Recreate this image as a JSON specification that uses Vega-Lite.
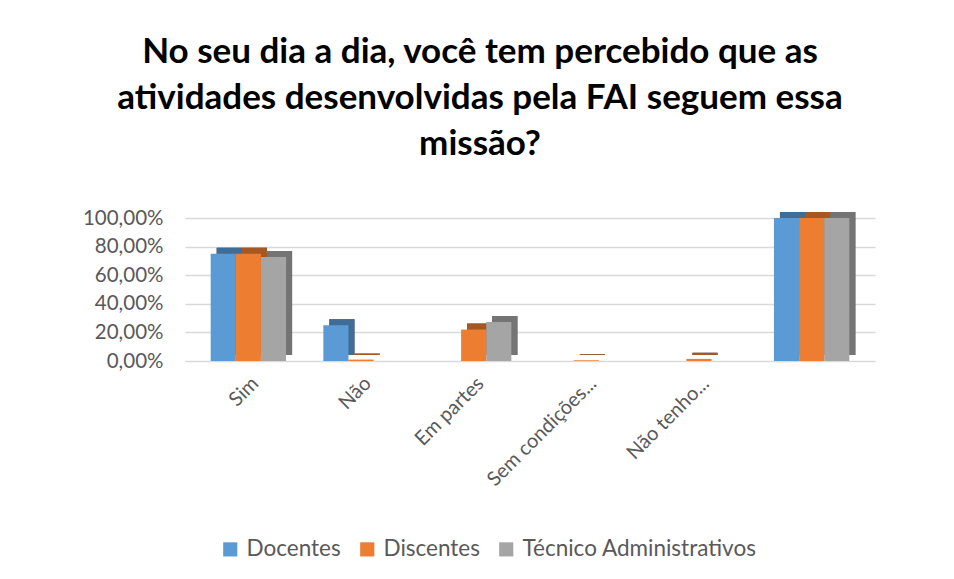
{
  "$schema": "https://vega.github.io/schema/vega-lite/v6.json",
  "width": 690,
  "height": 143,
  "autosize": {"type": "none"},
  "padding": {"left": 185, "top": 218, "right": 79, "bottom": 218},
  "background": "white",
  "config": {
    "locale": {"number": {"decimal": ",", "thousands": ".", "grouping": [3], "currency": ["R$", ""]}},
    "view": {"stroke": null},
    "font": "Lato"
  },
  "title": {
    "text": ["No seu dia a dia, você tem percebido que as", "atividades desenvolvidas pela FAI seguem essa", "missão?"],
    "font": "Lato",
    "fontSize": 35,
    "fontWeight": "bold",
    "color": "#000000",
    "lineHeight": 46,
    "anchor": "middle",
    "dx": -50,
    "offset": 46
  },
  "data": {
    "values": [
      {"categoria": "Sim", "grupo": "Docentes", "valor": 0.75},
      {"categoria": "Sim", "grupo": "Discentes", "valor": 0.75},
      {"categoria": "Sim", "grupo": "Técnico Administrativos", "valor": 0.7273},
      {"categoria": "Não", "grupo": "Docentes", "valor": 0.25},
      {"categoria": "Não", "grupo": "Discentes", "valor": 0.01},
      {"categoria": "Não", "grupo": "Técnico Administrativos", "valor": 0},
      {"categoria": "Em partes", "grupo": "Docentes", "valor": 0},
      {"categoria": "Em partes", "grupo": "Discentes", "valor": 0.22},
      {"categoria": "Em partes", "grupo": "Técnico Administrativos", "valor": 0.2727},
      {"categoria": "Sem condições...", "grupo": "Discentes", "valor": 0.005},
      {"categoria": "Não tenho...", "grupo": "Discentes", "valor": 0.015},
      {"categoria": " ", "grupo": "Docentes", "valor": 1},
      {"categoria": " ", "grupo": "Discentes", "valor": 1},
      {"categoria": " ", "grupo": "Técnico Administrativos", "valor": 1}
    ]
  },
  "encoding": {
    "x": {
      "field": "categoria",
      "type": "nominal",
      "sort": ["Sim", "Não", "Em partes", "Sem condições...", "Não tenho...", " "],
      "scale": {"paddingInner": 0.331, "paddingOuter": 0.228},
      "axis": {
        "title": null,
        "labelAngle": -45,
        "labelFontSize": 20,
        "labelColor": "#595959",
        "labelFont": "Lato",
        "labelPadding": 12,
        "domain": false,
        "ticks": false
      }
    },
    "y": {
      "field": "valor",
      "type": "quantitative",
      "scale": {"domain": [0, 1], "nice": false},
      "axis": {
        "title": null,
        "format": ".2%",
        "values": [0, 0.2, 0.4, 0.6, 0.8, 1],
        "labelOverlap": false,
        "labelFontSize": 20.5,
        "labelColor": "#595959",
        "labelFont": "Lato",
        "labelPadding": 22,
        "domain": false,
        "ticks": false,
        "gridColor": "#D9D9D9",
        "gridWidth": 1.5
      }
    }
  },
  "layer": [
    {
      "mark": {"type": "bar", "yOffset": -6, "fill": "#000000"},
      "encoding": {
        "xOffset": {
          "field": "grupo",
          "type": "nominal",
          "sort": ["Docentes", "Discentes", "Técnico Administrativos"],
          "scale": {"paddingInner": 0, "paddingOuter": 0, "range": [6, 81.4]}
        },
        "detail": {"field": "grupo"}
      }
    },
    {
      "mark": {"type": "bar", "yOffset": -6, "opacity": 0.7},
      "encoding": {
        "xOffset": {
          "field": "grupo",
          "type": "nominal",
          "sort": ["Docentes", "Discentes", "Técnico Administrativos"],
          "scale": {"paddingInner": 0, "paddingOuter": 0, "range": [6, 81.4]}
        },
        "color": {
          "field": "grupo",
          "type": "nominal",
          "scale": {
            "domain": ["Docentes", "Discentes", "Técnico Administrativos"],
            "range": ["#5B9BD5", "#ED7D31", "#A5A5A5"]
          }
        }
      }
    },
    {
      "mark": {"type": "bar"},
      "encoding": {
        "xOffset": {
          "field": "grupo",
          "type": "nominal",
          "sort": ["Docentes", "Discentes", "Técnico Administrativos"],
          "scale": {"paddingInner": 0, "paddingOuter": 0}
        },
        "color": {
          "field": "grupo",
          "type": "nominal",
          "scale": {
            "domain": ["Docentes", "Discentes", "Técnico Administrativos"],
            "range": ["#5B9BD5", "#ED7D31", "#A5A5A5"]
          },
          "legend": {
            "title": null,
            "orient": "none",
            "direction": "horizontal",
            "legendX": 34,
            "legendY": 320,
            "symbolType": "square",
            "symbolSize": 200,
            "symbolStrokeWidth": 0,
            "symbolOpacity": 1,
            "labelFontSize": 22.5,
            "labelLimit": 400,
            "labelColor": "#595959",
            "labelFont": "Lato",
            "columnPadding": 15,
            "labelOffset": 5,
            "encode": {
              "symbols": {"update": {"opacity": {"value": 1}, "fillOpacity": {"value": 1}}}
            }
          }
        }
      }
    }
  ],
  "resolve": {"scale": {"xOffset": "independent"}}
}
